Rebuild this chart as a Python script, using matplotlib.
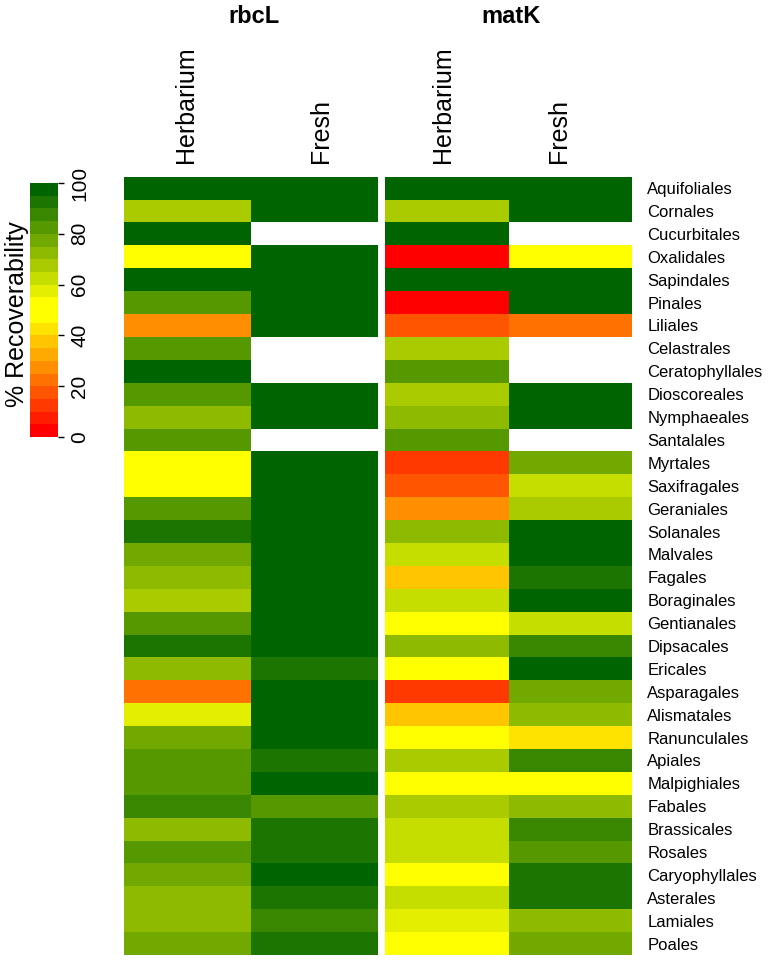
import numpy as np
import matplotlib
matplotlib.use("Agg")
import matplotlib.pyplot as plt
from matplotlib.colors import ListedColormap, BoundaryNorm
from matplotlib.cm import ScalarMappable

plt.rcParams['font.family'] = ['Liberation Sans', 'DejaVu Sans']

orders = ["Aquifoliales", "Cornales", "Cucurbitales", "Oxalidales", "Sapindales",
          "Pinales", "Liliales", "Celastrales", "Ceratophyllales", "Dioscoreales",
          "Nymphaeales", "Santalales", "Myrtales", "Saxifragales", "Geraniales",
          "Solanales", "Malvales", "Fagales", "Boraginales", "Gentianales",
          "Dipsacales", "Ericales", "Asparagales", "Alismatales", "Ranunculales",
          "Apiales", "Malpighiales", "Fabales", "Brassicales", "Rosales",
          "Caryophyllales", "Asterales", "Lamiales", "Poales"]

nan = np.nan
rbcL_herbarium = [100, 68, 100, 50, 100, 83, 28, 83, 100, 83, 73, 83, 50, 50, 83, 92, 78,
                  73, 68, 83, 92, 73, 23, 58, 78, 83, 83, 88, 73, 83, 78, 73, 73, 78]
rbcL_fresh = [100, 100, nan, 100, 100, 100, 100, nan, nan, 100, 100, nan, 100, 100, 100,
              100, 100, 100, 100, 100, 100, 92, 100, 100, 100, 92, 100, 83, 92, 92, 100,
              92, 88, 92]
matK_herbarium = [100, 68, 100, 0, 100, 0, 18, 68, 83, 68, 73, 83, 13, 18, 28, 73, 63,
                  38, 63, 50, 73, 50, 13, 38, 50, 68, 50, 68, 63, 63, 50, 63, 58, 50]
matK_fresh = [100, 100, nan, 50, 100, 100, 23, nan, nan, 100, 100, nan, 78, 63, 68, 100,
              100, 92, 100, 63, 88, 100, 78, 73, 43, 88, 50, 73, 88, 83, 92, 92, 73, 78]

columns = ["Herbarium", "Fresh"]
markers = ["rbcL", "matK"]
cbar_ticks = [0, 20, 40, 60, 80, 100]

palette = ["#FF0000", "#FF1C00", "#FF3900", "#FF5500", "#FF7100", "#FF8E00", "#FFAA00",
           "#FFC600", "#FFE300", "#FFFF00", "#FFFF00", "#E3EE00", "#C6DD00", "#AACB00",
           "#8EBA00", "#71A900", "#559800", "#398600", "#1C7500", "#006400"]
cmap = ListedColormap(palette)
cmap.set_bad("white")
norm = BoundaryNorm(np.arange(0, 101, 5), cmap.N)

W, H = 768, 960
fig = plt.figure(figsize=(W / 100, H / 100), dpi=100)


def fx(x):
    return x / W


def fy(y):
    return 1 - y / H


top, bottom = 176.7, 955
panels = [(124, 378), (385, 632)]
data = [(rbcL_herbarium, rbcL_fresh), (matK_herbarium, matK_fresh)]
n = len(orders)
axes = []
for (l, r), (h, f) in zip(panels, data):
    ax = fig.add_axes([fx(l), fy(bottom), (r - l) / W, (bottom - top) / H])
    M = np.ma.masked_invalid(np.array([h, f], dtype=float).T)
    ax.pcolormesh(np.arange(3), np.arange(n + 1), M, cmap=cmap, norm=norm,
                  edgecolors='none', antialiased=False)
    ax.set_xlim(0, 2)
    ax.set_ylim(n, 0)
    for s in ax.spines.values():
        s.set_visible(False)
    ax.set_xticks([])
    ax.set_yticks([])
    axes.append(ax)

ax2 = axes[1]
ax2.yaxis.tick_right()
ax2.set_yticks(np.arange(n) + 0.5)
ax2.set_yticklabels(orders, fontsize=12)
ax2.tick_params(axis='y', length=0, pad=11)

# titles
for name, (l, r) in zip(markers, panels):
    fig.text(fx((l + r) / 2 + 3), fy(23), name, fontsize=17, fontweight='bold',
             ha='center', va='baseline')

# column labels
for xpos, lab in zip([186, 321, 443, 559], columns * 2):
    fig.text(fx(xpos), fy(163), lab, fontsize=18, rotation=90,
             ha='center', va='bottom')

# colorbar
cax = fig.add_axes([fx(30), fy(437), 28 / W, (437 - 183) / H])
sm = ScalarMappable(norm=norm, cmap=cmap)
cb = fig.colorbar(sm, cax=cax, ticks=cbar_ticks, drawedges=False)
cb.outline.set_visible(False)
cax.minorticks_off()
cax.tick_params(axis='y', which='minor', length=0)
cax.tick_params(axis='y', which='major', length=4, width=1, pad=5, labelsize=15,
                right=True)
cax.set_yticklabels([str(t) for t in cbar_ticks], rotation=90, va='center')
fig.text(fx(17), fy(314), "% Recoverability", fontsize=18, rotation=90,
         ha='center', va='center')

fig.savefig("out.png", dpi=100)
